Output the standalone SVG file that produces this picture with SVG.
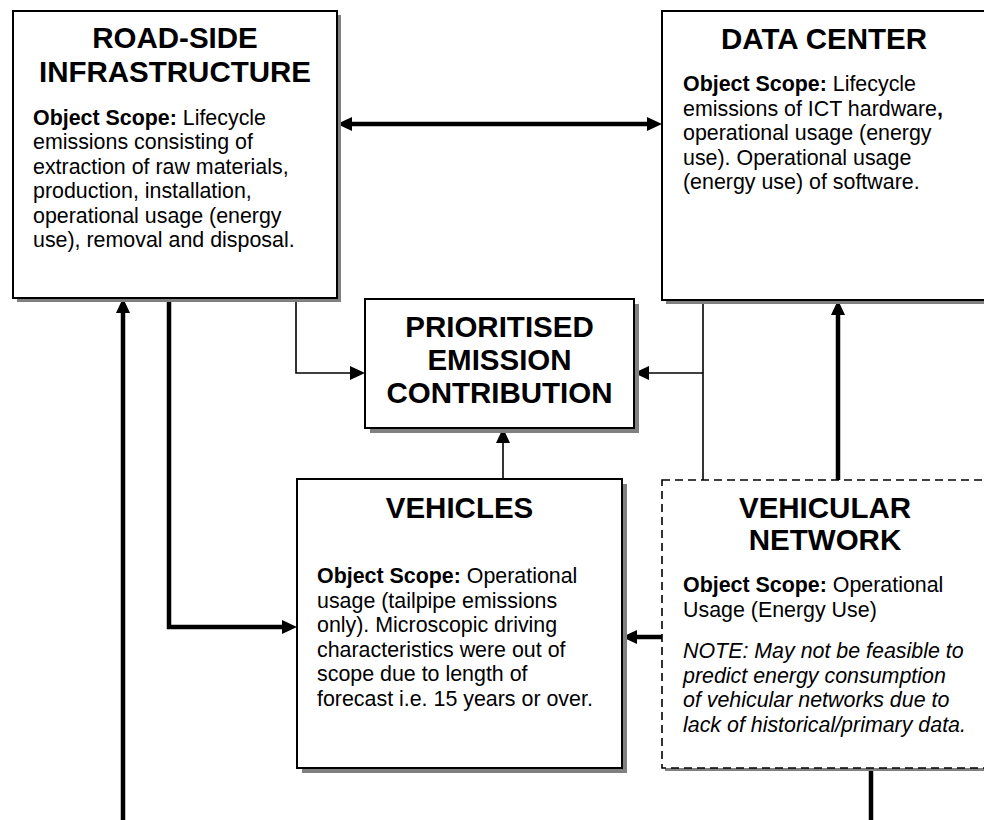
<svg xmlns="http://www.w3.org/2000/svg" width="984" height="820" viewBox="0 0 984 820">
  <style>
    .box { fill: #ffffff; stroke: #000000; stroke-width: 2; }
    .dash { fill: #ffffff; stroke: #000000; stroke-width: 1.6; stroke-dasharray: 8 5; }
    .shadow { fill: #808080; stroke: none; }
    .title { font-family: "Liberation Sans", Arial, sans-serif; font-weight: bold; font-size: 29.5px; fill: #000; text-anchor: middle; }
    .body { font-family: "Liberation Sans", Arial, sans-serif; font-size: 21.4px; fill: #000; }
    .b { font-weight: bold; }
    .it { font-style: italic; }
    .thin { fill: none; stroke: #000; stroke-width: 1.6; }
    .thick { fill: none; stroke: #000; stroke-width: 4.5; }
  </style>
  <defs>
    <marker id="arrow" markerUnits="userSpaceOnUse" markerWidth="16" markerHeight="14" refX="3" refY="7" orient="auto-start-reverse">
      <path d="M0,0 L15,7 L0,14 Z" fill="#000"/>
    </marker>
  </defs>

  <rect width="984" height="820" fill="#ffffff"/>

  <!-- connectors -->
  <g id="connectors">
    <path class="thick" d="M349,124 H650" marker-start="url(#arrow)" marker-end="url(#arrow)"/>
    <path class="thin" d="M296,298 V373 H353" marker-end="url(#arrow)"/>
    <path class="thin" d="M703,300 V480"/>
    <path class="thin" d="M703,373 H646" marker-end="url(#arrow)"/>
    <path class="thin" d="M503,479 V440" marker-end="url(#arrow)"/>
    <path class="thick" d="M838,480 V312" marker-end="url(#arrow)"/>
    <path class="thick" d="M662,637 H634" marker-end="url(#arrow)"/>
    <path class="thick" d="M871,768 V820"/>
    <path class="thick" d="M123,820 V310" marker-end="url(#arrow)"/>
    <path class="thick" d="M169,298 V627 H285" marker-end="url(#arrow)"/>
  </g>

  <!-- road-side infrastructure -->
  <g id="roadside">
    <rect class="shadow" x="17" y="15" width="324" height="287"/>
    <rect class="box" x="13" y="11" width="324" height="287"/>
    <text class="title" x="175" y="48">ROAD-SIDE</text>
    <text class="title" x="175" y="82">INFRASTRUCTURE</text>
    <text class="body" x="33" y="124.5"><tspan class="b">Object Scope:</tspan> Lifecycle</text>
    <text class="body" x="33" y="149">emissions consisting of</text>
    <text class="body" x="33" y="173.5">extraction of raw materials,</text>
    <text class="body" x="33" y="198">production, installation,</text>
    <text class="body" x="33" y="222.5">operational usage (energy</text>
    <text class="body" x="33" y="247">use), removal and disposal.</text>
  </g>

  <!-- data center -->
  <g id="datacenter">
    <rect class="shadow" x="666" y="15" width="324" height="289"/>
    <rect class="box" x="662" y="11" width="324" height="289"/>
    <text class="title" x="824" y="49">DATA CENTER</text>
    <text class="body" x="683" y="91"><tspan class="b">Object Scope:</tspan> Lifecycle</text>
    <text class="body" x="683" y="115.5">emissions of ICT hardware<tspan class="b">,</tspan></text>
    <text class="body" x="683" y="140">operational usage (energy</text>
    <text class="body" x="683" y="164.5">use). Operational usage</text>
    <text class="body" x="683" y="189">(energy use) of software.</text>
  </g>

  <!-- prioritised emission contribution -->
  <g id="prioritised">
    <rect class="shadow" x="370" y="304" width="269" height="129"/>
    <rect class="box" x="365" y="299" width="269" height="129"/>
    <text class="title" x="499.5" y="337">PRIORITISED</text>
    <text class="title" x="499.5" y="370">EMISSION</text>
    <text class="title" x="499.5" y="403">CONTRIBUTION</text>
  </g>

  <!-- vehicles -->
  <g id="vehicles">
    <rect class="shadow" x="302" y="484" width="325" height="289"/>
    <rect class="box" x="297" y="479" width="325" height="289"/>
    <text class="title" x="459.5" y="518">VEHICLES</text>
    <text class="body" x="317" y="583"><tspan class="b">Object Scope:</tspan> Operational</text>
    <text class="body" x="317" y="607.5">usage (tailpipe emissions</text>
    <text class="body" x="317" y="632">only). Microscopic driving</text>
    <text class="body" x="317" y="656.5">characteristics were out of</text>
    <text class="body" x="317" y="681">scope due to length of</text>
    <text class="body" x="317" y="705.5">forecast i.e. 15 years or over.</text>
  </g>

  <!-- vehicular network -->
  <g id="vehicularnetwork">
    <rect class="shadow" x="665" y="483" width="326" height="288"/>
    <rect class="dash" x="662" y="480" width="326" height="288"/>
    <text class="title" x="825" y="518">VEHICULAR</text>
    <text class="title" x="825" y="550">NETWORK</text>
    <text class="body" x="683" y="592"><tspan class="b">Object Scope:</tspan> Operational</text>
    <text class="body" x="683" y="616.5">Usage (Energy Use)</text>
    <text class="body it" x="683" y="658">NOTE: May not be feasible to</text>
    <text class="body it" x="683" y="682.5">predict energy consumption</text>
    <text class="body it" x="683" y="707">of vehicular networks due to</text>
    <text class="body it" x="683" y="731.5">lack of historical/primary data.</text>
  </g>
</svg>
